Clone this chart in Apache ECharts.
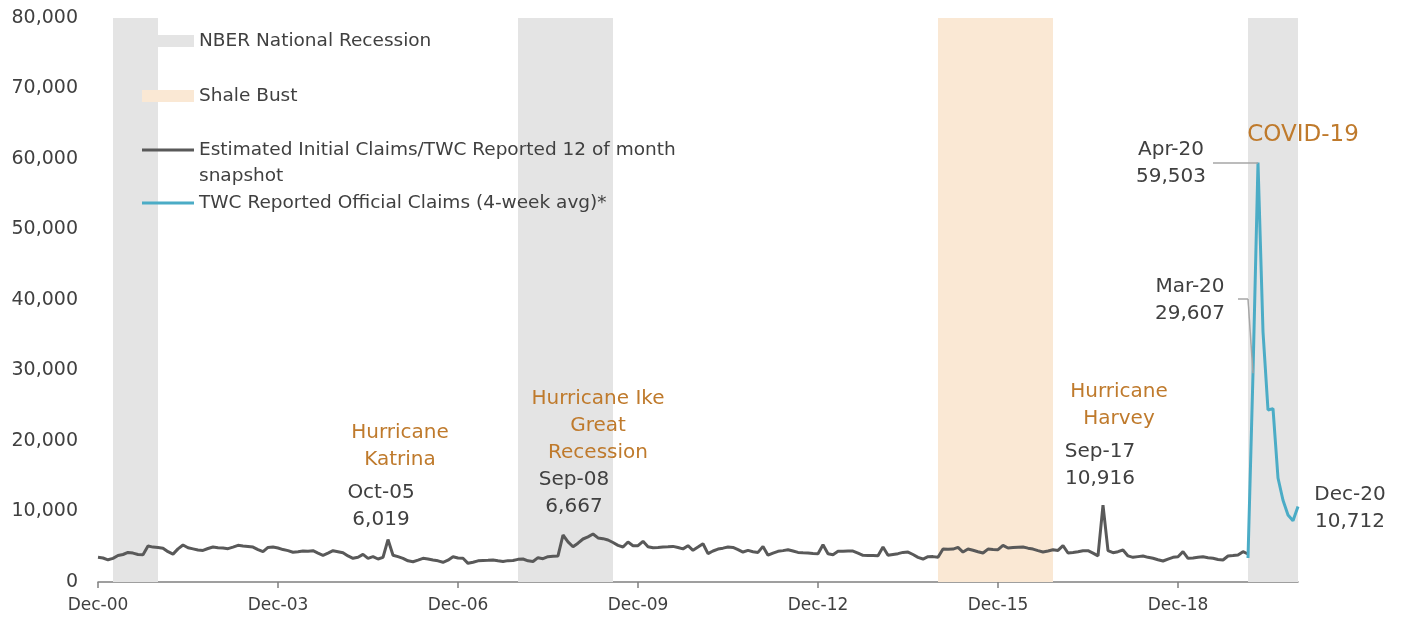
<!DOCTYPE html>
<html>
<head>
<meta charset="utf-8">
<script src="https://cdn.jsdelivr.net/npm/echarts@6/dist/echarts.min.js"></script>
<style>
  html, body { margin: 0; padding: 0; background: #fff; }
  #chart { width: 1403px; height: 623px; }
</style>
</head>
<body>
<div id="chart"></div>
<script>
// monthly categories Dec-00 .. Dec-20
const monthNames = ['Jan', 'Feb', 'Mar', 'Apr', 'May', 'Jun', 'Jul', 'Aug', 'Sep', 'Oct', 'Nov', 'Dec']
const months = []
for (let i = 0; i <= 240; i++) {
  const m = (11 + i) % 12
  const y = Math.floor((11 + i) / 12)
  months.push(monthNames[m] + '-' + String(y).padStart(2, '0'))
}

// Estimated Initial Claims, Dec-00 .. Feb-20
const estimatedClaims = [
  3500, 3400, 3150, 3350, 3750, 3900, 4200, 4100, 3900, 3850, 5100, 4950,
  4900, 4800, 4300, 3950, 4700, 5250, 4850, 4700, 4550, 4480, 4750, 4960,
  4850, 4820, 4730, 4950, 5200, 5100, 5050, 4950, 4600, 4300, 4900, 4960,
  4820, 4600, 4450, 4220, 4300, 4400, 4350, 4440, 4100, 3780, 4100, 4440,
  4300, 4160, 3700, 3360, 3500, 3920, 3360, 3600, 3260, 3500, 6019, 3800,
  3600, 3360, 3000, 2880, 3100, 3360, 3250, 3120, 3000, 2800, 3100, 3590,
  3400, 3360, 2650, 2800, 3000, 3050, 3080, 3120, 3000, 2900, 3030, 3050,
  3210, 3260, 3000, 2900, 3450, 3310, 3590, 3650, 3700, 6667, 5700, 5000,
  5500, 6100, 6400, 6800, 6250, 6150, 5960, 5600, 5200, 4960, 5680, 5150,
  5150, 5770, 5000, 4850, 4900, 4960, 5000, 5050, 4900, 4700, 5150, 4500,
  4950, 5430, 4020, 4400, 4670, 4800, 4960, 4900, 4600, 4250, 4480, 4300,
  4200, 5050, 3800, 4100, 4350, 4450, 4580, 4400, 4200, 4150, 4110, 4050,
  4020, 5290, 4000, 3880, 4350, 4370, 4380, 4390, 4100, 3780, 3760, 3750,
  3730, 4960, 3780, 3900, 4020, 4200, 4250, 3900, 3500, 3260, 3590, 3600,
  3500, 4670, 4650, 4670, 4910, 4250, 4670, 4500, 4300, 4110, 4670, 4600,
  4580, 5200, 4820, 4880, 4920, 4960, 4800, 4670, 4450, 4250, 4400, 4580,
  4480, 5150, 4110, 4200, 4300, 4440, 4440, 4100, 3700, 10916, 4440, 4160,
  4300, 4540, 3700, 3500, 3600, 3690, 3500, 3360, 3150, 2980, 3250, 3500,
  3590, 4300, 3360, 3400, 3500, 3590, 3450, 3360, 3200, 3120, 3690, 3750,
  3830, 4300, 3970
]

// TWC Reported Official Claims (4-week avg), Feb-20 .. Dec-20
const officialStart = 'Feb-20'
const officialClaims = [3400, 29607, 59503, 35500, 24400, 24600, 14750, 11600, 9500, 8700, 10712]

const tickLabels = ['Dec-00', 'Dec-03', 'Dec-06', 'Dec-09', 'Dec-12', 'Dec-15', 'Dec-18']

const recessions = [['Mar-01', 'Dec-01'], ['Dec-07', 'Jul-09'], ['Feb-20', 'Dec-20']]
const shaleBust = [['Dec-14', 'Nov-16']]

const officialData = months.map(() => null)
const startIdx = months.indexOf(officialStart)
officialClaims.forEach((v, i) => { officialData[startIdx + i] = v })

const FONT = 'DejaVu Sans'
const TEXT = '#404040'
const ORANGE = '#BF7A2C'
const GRAY_LINE = '#595959'
const BLUE = '#4BACC6'
const BAND_GRAY = '#E4E4E4'
const BAND_SHALE = '#FAE8D4'

const NAME_NBER = 'NBER National Recession'
const NAME_SHALE = 'Shale Bust'
const NAME_EST = 'Estimated Initial Claims/TWC Reported 12 of month\nsnapshot'
const NAME_TWC = 'TWC Reported Official Claims (4-week avg)*'

const chart = echarts.init(document.getElementById('chart'), null, { renderer: 'canvas' })

const note = (coord, text, offset, color, size) => ({
  coord: coord,
  symbol: 'circle',
  symbolSize: 0,
  label: {
    show: true,
    position: 'inside',
    formatter: text,
    offset: offset,
    color: color || TEXT,
    fontFamily: FONT,
    fontSize: size || 20,
    lineHeight: 27,
    align: 'center',
  },
})

const legendText = { color: TEXT, fontFamily: FONT, fontSize: 18.5, lineHeight: 26 }

const legendItem = (item, top, itemHeight) => ({
  left: 142,
  top: top,
  padding: 0,
  orient: 'vertical',
  itemWidth: 52,
  itemHeight: itemHeight,
  selectedMode: false,
  textStyle: legendText,
  data: [item],
})

const option = {
  animation: false,
  grid: { left: 98, right: 105, top: 18, bottom: 41 },
  legend: [
    legendItem({ name: NAME_NBER, icon: 'rect', itemStyle: { color: BAND_GRAY } }, 28, 12),
    legendItem({ name: NAME_SHALE, icon: 'rect', itemStyle: { color: BAND_SHALE } }, 83, 12),
    // line icon drawn near the top of a two-line box so it sits beside the first line
    legendItem({
      name: NAME_EST,
      icon: 'path://M0,11.5H52V14.5H0Z M0,0L0.01,0L0.01,0.01Z M0,52L0.01,52L0.01,52.01Z',
    }, 137, 52),
    legendItem({ name: NAME_TWC, icon: 'rect' }, 190, 3),
  ],
  xAxis: {
    type: 'category',
    data: months,
    boundaryGap: false,
    axisLine: { lineStyle: { color: '#808080', width: 1.5 } },
    axisTick: { interval: 35, length: 6, lineStyle: { color: '#808080', width: 1.5 } },
    axisLabel: {
      interval: 35,
      margin: 15,
      color: TEXT,
      fontFamily: FONT,
      fontSize: 17,
      formatter: (v) => (tickLabels.includes(v) ? v : ''),
    },
    splitLine: { show: false },
  },
  yAxis: {
    type: 'value',
    min: 0,
    max: 80000,
    interval: 10000,
    axisLine: { show: false },
    axisTick: { show: false },
    splitLine: { show: false },
    axisLabel: {
      margin: 20,
      color: TEXT,
      fontFamily: FONT,
      fontSize: 19,
      formatter: (v) => v.toLocaleString('en-US'),
    },
  },
  series: [
    {
      name: NAME_NBER,
      type: 'line',
      data: [],
      itemStyle: { color: BAND_GRAY },
      markArea: {
        silent: true,
        itemStyle: { color: BAND_GRAY },
        data: recessions.map((r) => [{ xAxis: r[0] }, { xAxis: r[1] }]),
      },
    },
    {
      name: NAME_SHALE,
      type: 'line',
      data: [],
      itemStyle: { color: BAND_SHALE },
      markArea: {
        silent: true,
        itemStyle: { color: BAND_SHALE },
        data: shaleBust.map((r) => [{ xAxis: r[0] }, { xAxis: r[1] }]),
      },
    },
    {
      name: NAME_EST,
      type: 'line',
      data: estimatedClaims,
      showSymbol: false,
      lineStyle: { color: GRAY_LINE, width: 3 },
      itemStyle: { color: GRAY_LINE },
      z: 3,
      markPoint: {
        silent: true,
        data: [
          note(['Oct-05', 6019], 'Oct-05\n6,019', [-7, -33]),
          note(['Oct-05', 6019], 'Hurricane\nKatrina', [12, -93], ORANGE),
          note(['Sep-08', 6667], 'Sep-08\n6,667', [11, -42]),
          note(['Sep-08', 6667], 'Hurricane Ike\nGreat\nRecession', [35, -109], ORANGE),
          note(['Sep-17', 10916], 'Sep-17\n10,916', [-3, -40]),
          note(['Sep-17', 10916], 'Hurricane\nHarvey', [16, -100], ORANGE),
        ],
      },
    },
    {
      name: NAME_TWC,
      type: 'line',
      data: officialData,
      showSymbol: false,
      lineStyle: { color: BLUE, width: 3 },
      itemStyle: { color: BLUE },
      z: 4,
      markPoint: {
        silent: true,
        data: [
          note(['Apr-20', 59503], 'Apr-20\n59,503', [-87, 1]),
          note(['Mar-20', 29607], 'Mar-20\n29,607', [-63, -73]),
          note(['Apr-20', 59503], 'COVID-19', [45, -27], ORANGE, 23),
          note(['Dec-20', 10712], 'Dec-20\n10,712', [52, 2]),
        ],
      },
      markLine: {
        silent: true,
        symbol: ['none', 'none'],
        label: { show: false },
        lineStyle: { color: '#A6A6A6', width: 1.5, type: 'solid' },
        data: [
          [{ coord: ['Jul-19', 59503] }, { coord: ['Apr-20', 59503] }],
          [{ coord: ['Dec-19', 40140] }, { coord: ['Feb-20', 40140] }],
          [{ coord: ['Feb-20', 40140] }, { coord: ['Mar-20', 29607] }],
        ],
      },
    },
  ],
}

chart.setOption(option)
window.addEventListener('resize', () => chart.resize())
</script>
</body>
</html>
